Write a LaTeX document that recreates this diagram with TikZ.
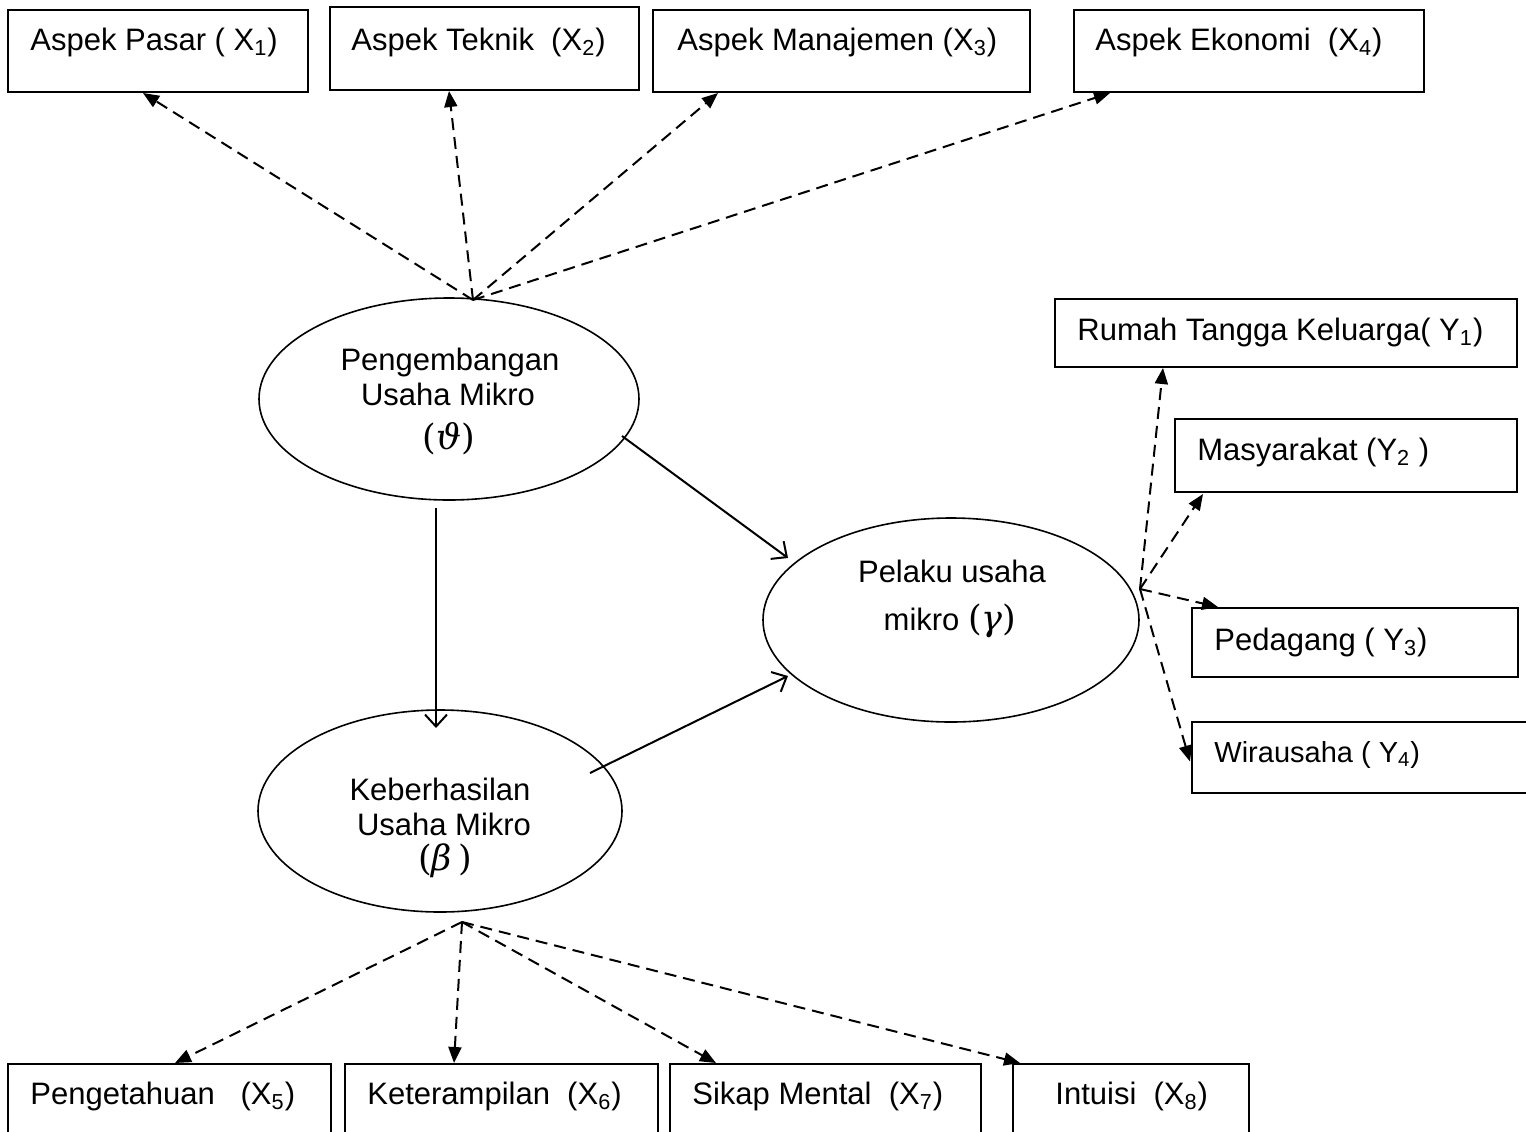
\documentclass[tikz,border=0pt]{standalone}
\usepackage{fontspec}
\setmainfont{Liberation Sans}
\newfontfamily\grkfont{DejaVu Serif}
\usetikzlibrary{arrows.meta,shapes.geometric}
\newcommand{\grk}[1]{{\fontsize{17.5}{20}\grkfont(\textit{#1})}}
\newcommand{\grksp}[1]{{\fontsize{17.5}{20}\grkfont(\textit{#1}\,)}}
\begin{document}
\begin{tikzpicture}[x=0.5pt,y=-0.5pt,
  boxst/.style={draw, line width=1pt, inner sep=0pt, outer sep=0pt},
  ellst/.style={draw, ellipse, line width=0.8pt, inner sep=0pt, outer sep=0pt},
  lbl/.style={anchor=base west, inner sep=0pt, font=\fontsize{15.5}{18}\selectfont},
  clbl/.style={anchor=base, inner sep=0pt, font=\fontsize{15.5}{18}\selectfont},
  dsh/.style={line width=1pt, dash pattern=on 6pt off 3.5pt, -{Triangle[length=8pt,width=6.5pt]}},
  sol/.style={line width=1pt, -{Straight Barb[length=6pt,width=11pt,line width=1pt]}}]
\useasboundingbox (0,0) rectangle (1526,1131);
\fill[white] (0,0) rectangle (1526,1131);

% top boxes
\node[boxst, minimum width=150pt, minimum height=41pt] (bx1) at (158,51) {};
\node[boxst, minimum width=154.5pt, minimum height=41.5pt] (bx2) at (484.5,48.5) {};
\node[boxst, minimum width=188.5pt, minimum height=41pt] (bx3) at (841.5,51) {};
\node[boxst, minimum width=175pt, minimum height=41pt] (bx4) at (1249,51) {};
\node[lbl] (tx1) at (30,50) {Aspek Pasar ( X\textsubscript{1})};
\node[lbl] (tx2) at (351,50) {Aspek Teknik\ \ (X\textsubscript{2})};
\node[lbl] (tx3) at (677,50) {Aspek Manajemen (X\textsubscript{3})};
\node[lbl] (tx4) at (1095,50) {Aspek Ekonomi\ \ (X\textsubscript{4})};

% right boxes
\node[boxst, minimum width=231pt, minimum height=34pt] (by1) at (1286,333) {};
\node[boxst, minimum width=171pt, minimum height=36.5pt] (by2) at (1346,455.5) {};
\node[boxst, minimum width=163pt, minimum height=34.5pt] (by3) at (1355,642.5) {};
\node[boxst, minimum width=174pt, minimum height=35.5pt] (by4) at (1366,757.5) {};
\node[lbl] (ty1) at (1077,340) {Rumah Tangga Keluarga( Y\textsubscript{1})};
\node[lbl] (ty2) at (1197,460) {Masyarakat (Y\textsubscript{2} )};
\node[lbl] (ty3) at (1214,650) {Pedagang ( Y\textsubscript{3})};
\node[lbl, font=\fontsize{14.5}{17}\selectfont] (ty4) at (1214,762) {Wirausaha ( Y\textsubscript{4})};

% bottom boxes
\node[boxst, minimum width=161.5pt, minimum height=38pt] (bx5) at (169.5,1102) {};
\node[boxst, minimum width=156.5pt, minimum height=38pt] (bx6) at (501.5,1102) {};
\node[boxst, minimum width=155.5pt, minimum height=38pt] (bx7) at (825.5,1102) {};
\node[boxst, minimum width=118pt, minimum height=38pt] (bx8) at (1131,1102) {};
\node[lbl] (tx5) at (30,1104) {Pengetahuan\ \ \ (X\textsubscript{5})};
\node[lbl] (tx6) at (367,1104) {Keterampilan\ \ (X\textsubscript{6})};
\node[lbl] (tx7) at (692,1104) {Sikap Mental\ \ (X\textsubscript{7})};
\node[lbl] (tx8) at (1055,1104) {Intuisi\ \ (X\textsubscript{8})};

% ellipses
\node[ellst, minimum width=190pt, minimum height=101pt] (e1) at (449,399) {};
\node[ellst, minimum width=182pt, minimum height=101pt] (e2) at (440,811) {};
\node[ellst, minimum width=188pt, minimum height=102pt] (e3) at (951,620) {};
\node[clbl] (te1a) at (450,370) {Pengembangan};
\node[clbl] (te1b) at (448,405) {Usaha Mikro};
\node[clbl] (te1c) at (449,449) {\grk{ϑ}};
\node[clbl] (te2a) at (440,800) {Keberhasilan};
\node[clbl] (te2b) at (444,835) {Usaha Mikro};
\node[clbl] (te2c) at (445,870) {\grksp{β}};
\node[clbl] (te3a) at (952,582) {Pelaku usaha};
\node[clbl] (te3b) at (950,630) {mikro \grk{γ}};

% hubs
\coordinate (hubA) at (473,300);
\coordinate (hubB) at (462,922);
\coordinate (hubC) at (1140,589);

% dashed connectors
\draw[dsh] (hubA) -- ([xshift=67.5pt,yshift=-0.5pt]bx1.south west);
\draw[dsh] (hubA) -- ([xshift=59.5pt,yshift=-0.5pt]bx2.south west);
\draw[dsh] (hubA) -- ([xshift=32.5pt,yshift=-0.5pt]bx3.south west);
\draw[dsh] (hubA) -- ([xshift=18pt,yshift=-0.5pt]bx4.south west);

\draw[dsh] (hubC) -- ([xshift=54pt,yshift=-0.5pt]by1.south west);
\draw[dsh] (hubC) -- ([xshift=14pt,yshift=-1pt]by2.south west);
\draw[dsh] (hubC) -- ([xshift=13pt,yshift=0.5pt]by3.north west);
\draw[dsh] (hubC) -- ([xshift=-1pt,yshift=-2pt]by4.west);

\draw[dsh] (hubB) -- ([xshift=83.5pt,yshift=0.5pt]bx5.north west);
\draw[dsh] (hubB) -- ([xshift=54.5pt,yshift=0.5pt]bx6.north west);
\draw[dsh] (hubB) -- ([xshift=23pt,yshift=0.5pt]bx7.north west);
\draw[dsh] (hubB) -- ([xshift=3.5pt,yshift=0.5pt]bx8.north west);

% solid connectors
\draw[sol] ([xshift=86.5pt,yshift=-18.5pt]e1.center) -- ([xshift=-81.5pt,yshift=31pt]e3.center);
\draw[sol] ([xshift=-6.5pt,yshift=-54.5pt]e1.center) -- ([xshift=-2pt,yshift=41.5pt]e2.center);
\draw[sol] ([xshift=75pt,yshift=19pt]e2.center) -- ([xshift=-81.5pt,yshift=-28pt]e3.center);
\end{tikzpicture}
\end{document}
